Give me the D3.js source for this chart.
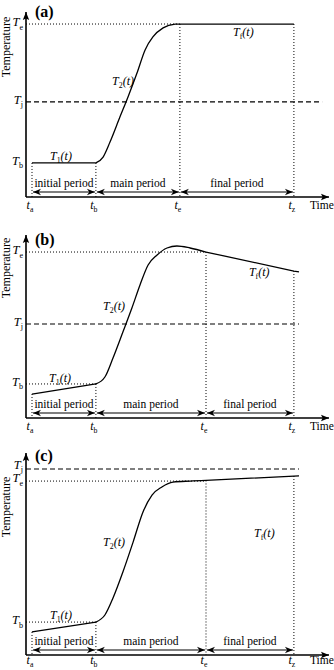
<!DOCTYPE html>
<html>
<head>
<meta charset="utf-8">
<script src="https://cdn.jsdelivr.net/npm/d3@7"></script>
<style>
  body { margin: 0; background: #fff; }
</style>
</head>
<body>
<div id="chart"></div>
<script>
// Shared names
const timeNames = ["a", "b", "e", "z"];
const periodNames = ["initial period", "main period", "final period"];
const tempNames = ["e", "j", "b"];

// Panel (a) - time in units 0..100, temperature 0..100
const aTimes = [2, 23.3, 51.3, 89.3];
const aTemps = [93.5, 51.4, 18.4];
const aT1 = [[2, 18.4], [23.3, 18.4]];
const aT2 = [[23.3, 18.4], [25.7, 21.6], [28, 29.7], [31.3, 43.2], [34, 54.1], [37, 67],
             [39.7, 79.5], [42.3, 86.5], [45.7, 91.4], [49.7, 93.4], [51.3, 93.5]];
const aTf = [[51.3, 93.5], [89.3, 93.5]];
const aTjEnd = 98.7;

// Panel (b)
const bTimes = [2, 23.3, 60, 89.3];
const bTemps = [90.7, 51.4, 18.6];
const bT1 = [[2, 13.1], [23.3, 18.6]];
const bT2 = [[23.3, 18.6], [26.3, 22.4], [29, 32.8], [32.3, 47], [35.3, 60.1], [38, 72.7],
             [40.7, 83.6], [43.7, 89.1], [47, 92.9], [50.3, 94], [54.7, 92.9], [60, 90.7]];
const bTf = [[60, 90.7], [89.3, 80.3], [91, 79.8]];
const bTjEnd = 91;

// Panel (c)
const cTimes = [2, 23.3, 60, 89.3];
const cTemps = [86.1, 92.1, 16.3];
const cT1 = [[2, 11.4], [23.3, 16.3]];
const cT2 = [[23.3, 16.3], [26.3, 19.8], [29, 28.2], [32.3, 41.1], [35.7, 55.9], [39, 70.8],
             [42, 79.2], [45.3, 83.2], [49, 85.6], [54.7, 86.1], [60, 86.4]];
const cTf = [[60, 86.4], [89.3, 88.6], [91, 88.7]];
const cTjEnd = 91;

const W = 334, H = 670;
const svg = d3.select("#chart").append("svg")
    .attr("width", W)
    .attr("height", H)
    .attr("font-family", "'Liberation Serif', 'Times New Roman', 'DejaVu Serif', serif");

// markers
const defs = svg.append("defs");
defs.append("marker")
    .attr("id", "barb")
    .attr("viewBox", "0 -5 10 10")
    .attr("refX", 10).attr("refY", 0)
    .attr("markerUnits", "userSpaceOnUse")
    .attr("markerWidth", 10).attr("markerHeight", 8)
    .attr("orient", "auto-start-reverse")
    .append("path")
    .attr("d", "M0,-4L10,0L0,4L3,0Z")
    .attr("fill", "#000");
defs.append("marker")
    .attr("id", "axisHead")
    .attr("viewBox", "0 -5 10 10")
    .attr("refX", 10).attr("refY", 0)
    .attr("markerUnits", "userSpaceOnUse")
    .attr("markerWidth", 9).attr("markerHeight", 8)
    .attr("orient", "auto")
    .append("path")
    .attr("d", "M0,-4L10,0L0,4L2,0Z")
    .attr("fill", "#000");

const x = d3.scaleLinear().domain([0, 100]).range([26, 326]);

function subText(sel, main, sub, tail, size) {
    sel.append("tspan").attr("font-style", "italic").text(main);
    sel.append("tspan").attr("font-size", size * 0.65).attr("dy", size * 0.28).text(sub);
    if (tail) sel.append("tspan").attr("font-style", "italic").attr("dy", -size * 0.28).text(tail);
}

function drawPanel(p) {
    const y = d3.scaleLinear().domain([0, 100]).range([p.bottom, p.top]);
    const g = svg.append("g");
    const bottom = p.bottom;
    const [ta, tb, te, tz] = p.times;
    const Te = p.temps[0], Tj = p.temps[1], Tb = p.temps[2];
    const tzTemp = p.Tf.find(d => d[0] === tz)[1];
    const line = d3.line().x(d => x(d[0])).y(d => y(d[1]));

    // guide lines
    const dotted = (x1, y1, x2, y2) => g.append("line")
        .attr("x1", x1).attr("y1", y1).attr("x2", x2).attr("y2", y2)
        .attr("stroke", "#000").attr("stroke-width", 1)
        .attr("stroke-dasharray", "1,2");
    dotted(x(0), y(Te), x(te), y(Te));
    if (p.T1[0][1] !== Tb) dotted(x(0), y(Tb), x(tb), y(Tb));
    dotted(x(ta), y(p.T1[0][1]), x(ta), y(0));
    dotted(x(tb), y(Tb), x(tb), y(0));
    dotted(x(te), y(p.Tf[0][1]), x(te), y(0));
    dotted(x(tz), y(tzTemp), x(tz), y(0));

    g.append("line")
        .attr("x1", x(0)).attr("x2", x(p.tjEnd))
        .attr("y1", y(Tj)).attr("y2", y(Tj))
        .attr("stroke", "#000").attr("stroke-width", 1.1)
        .attr("stroke-dasharray", "5,3");

    // curves
    g.append("path").datum(p.T1).attr("d", line)
        .attr("fill", "none").attr("stroke", "#000").attr("stroke-width", 1.3);
    g.append("path").datum(p.T2).attr("d", line.curve(d3.curveMonotoneX))
        .attr("fill", "none").attr("stroke", "#000").attr("stroke-width", 1.3);
    g.append("path").datum(p.Tf).attr("d", d3.line().x(d => x(d[0])).y(d => y(d[1])))
        .attr("fill", "none").attr("stroke", "#000").attr("stroke-width", 1.3);

    // axes
    g.append("line")
        .attr("x1", x(0)).attr("y1", bottom).attr("x2", x(0)).attr("y2", p.top)
        .attr("stroke", "#000").attr("stroke-width", 1.6)
        .attr("marker-end", "url(#axisHead)");
    g.append("line")
        .attr("x1", x(0)).attr("y1", bottom).attr("x2", 329).attr("y2", bottom)
        .attr("stroke", "#000").attr("stroke-width", 1.6)
        .attr("marker-end", "url(#axisHead)");

    // period double arrows + labels
    const bounds = [ta, tb, te, tz];
    periodNames.forEach((name, i) => {
        g.append("line")
            .attr("x1", x(bounds[i]) + 1).attr("x2", x(bounds[i + 1]) - 1)
            .attr("y1", bottom - 5).attr("y2", bottom - 5)
            .attr("stroke", "#000").attr("stroke-width", 1.1)
            .attr("marker-start", "url(#barb)")
            .attr("marker-end", "url(#barb)");
        g.append("text")
            .attr("x", (x(bounds[i]) + x(bounds[i + 1])) / 2)
            .attr("y", bottom - 10)
            .attr("text-anchor", "middle")
            .attr("font-size", 11.5)
            .text(name);
    });

    // time tick labels
    timeNames.forEach((n, i) => {
        const t = g.append("text")
            .attr("x", x(p.times[i]) - 2)
            .attr("y", bottom + p.tickDy)
            .attr("text-anchor", "middle")
            .attr("font-size", 12);
        subText(t, "t", n, null, 12);
    });
    g.append("text")
        .attr("x", 310).attr("y", bottom + p.tickDy)
        .attr("font-size", 11.5)
        .text("Time");

    // temperature labels
    tempNames.forEach((n, i) => {
        const t = g.append("text")
            .attr("x", 23)
            .attr("y", y(p.temps[i]) + p.tempDy[i])
            .attr("text-anchor", "end")
            .attr("font-size", 12.5);
        subText(t, "T", n, null, 12.5);
    });
    g.append("text")
        .attr("transform", `translate(10,${p.tempLabelY}) rotate(-90)`)
        .attr("text-anchor", "middle")
        .attr("font-size", 12)
        .text("Temperature");

    // curve labels
    const curveLabel = (pos, sub) => {
        const t = g.append("text")
            .attr("x", x(pos[0])).attr("y", y(pos[1]))
            .attr("font-size", 12);
        subText(t, "T", sub, "(t)", 12);
    };
    curveLabel(p.lab1, "1");
    curveLabel(p.lab2, "2");
    curveLabel(p.labf, "f");

    // panel tag
    g.append("text")
        .attr("x", 35).attr("y", p.tagY)
        .attr("font-size", 16).attr("font-weight", "bold")
        .text(p.tag);
}

drawPanel({ tag: "(a)", top: 12, bottom: 197, tagY: 17, tempLabelY: 47, tickDy: 12,
    tempDy: [2, 2, 2],
    times: aTimes, temps: aTemps, T1: aT1, T2: aT2, Tf: aTf, tjEnd: aTjEnd,
    lab1: [8, 20], lab2: [28.7, 60.5], labf: [69, 87] });
drawPanel({ tag: "(b)", top: 235, bottom: 418, tagY: 245, tempLabelY: 268, tickDy: 12,
    tempDy: [2, 2, 2],
    times: bTimes, temps: bTemps, T1: bT1, T2: bT2, Tf: bTf, tjEnd: bTjEnd,
    lab1: [7.7, 19.7], lab2: [25.7, 59], labf: [74.3, 77.6] });
drawPanel({ tag: "(c)", top: 453, bottom: 655, tagY: 461, tempLabelY: 507, tickDy: 9,
    tempDy: [1, 0, 2],
    times: cTimes, temps: cTemps, T1: cT1, T2: cT2, Tf: cTf, tjEnd: cTjEnd,
    lab1: [8, 17.8], lab2: [25.7, 54], labf: [76, 58.4] });
</script>
</body>
</html>
